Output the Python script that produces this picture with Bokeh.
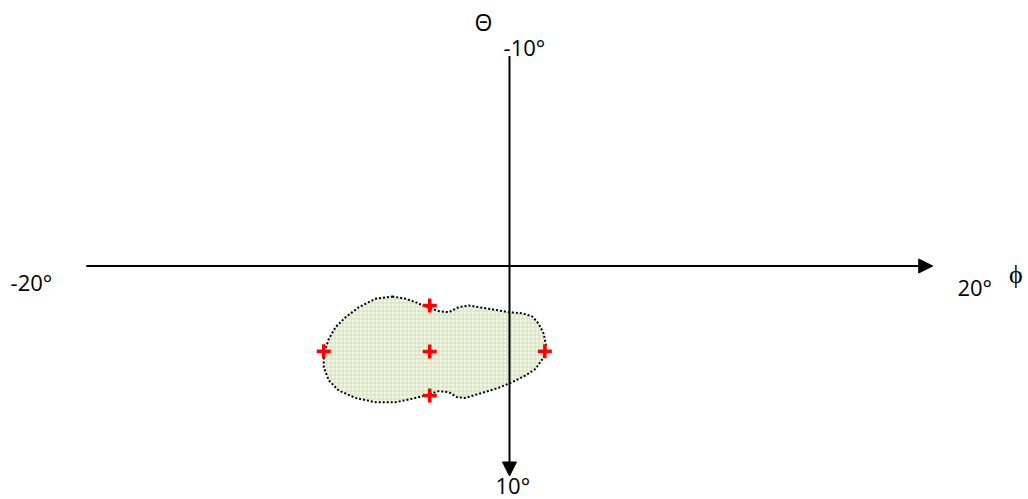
from bokeh.plotting import figure
from bokeh.models import Range1d, Arrow, NormalHead, Label
from bokeh.embed import file_html
from bokeh.resources import INLINE

# Axis extents (degrees)
phi_axis = [-20, 20]      # horizontal axis, phi
theta_axis = [-10, 10]    # vertical axis, theta (downward positive)

# Region outline (phi, theta) in degrees
region_phi = [-5.54, -4.91, -4.44, -3.97, -3.65, -3.34, -2.87, -2.40, -1.92, -1.29,
              -0.66, -0.03, 0.60, 1.07, 1.38, 1.62, 1.73, 1.62, 1.23, 0.76,
              0.13, -0.51, -1.29, -2.08, -2.47, -2.87, -3.34, -3.97, -4.60, -5.39,
              -6.33, -7.28, -8.07, -8.54, -8.78, -8.78, -8.54, -8.22, -7.75, -7.12,
              -6.33]
region_theta = [1.45, 1.56, 1.72, 1.93, 2.04, 2.15, 2.20, 1.96, 1.88, 1.99,
                2.09, 2.20, 2.25, 2.40, 2.75, 3.23, 3.79, 4.34, 4.90, 5.21,
                5.53, 5.80, 6.04, 6.28, 6.25, 6.01, 5.96, 6.17, 6.32, 6.49,
                6.49, 6.28, 5.93, 5.45, 4.82, 4.18, 3.47, 2.91, 2.44, 1.96,
                1.56]

# Sample points (red crosses)
pts_phi = [-8.78, -3.77, -3.77, -3.77, 1.67]
pts_theta = [4.06, 1.88, 4.07, 6.17, 4.06]

p = figure(width=1028, height=499,
           x_range=Range1d(-24.055, 24.527),
           y_range=Range1d(11.119, -12.643),
           output_backend="svg", toolbar_location=None,
           x_axis_location=None, y_axis_location=None,
           min_border=0, outline_line_color=None)
p.grid.visible = False
p.background_fill_color = "white"

p.patch(region_phi, region_theta, fill_color="#f2f6ea",
        hatch_pattern="cross", hatch_color="#d3e1b8", hatch_scale=4, hatch_weight=1,
        line_color="black", line_width=2, line_dash="2 2")

p.add_layout(Arrow(end=NormalHead(size=14, fill_color="black", line_color="black"),
                   x_start=phi_axis[0], y_start=0, x_end=phi_axis[1], y_end=0,
                   line_color="black", line_width=2))
p.add_layout(Arrow(end=NormalHead(size=14, fill_color="black", line_color="black"),
                   x_start=0, y_start=theta_axis[0], x_end=0, y_end=theta_axis[1],
                   line_color="black", line_width=2))

p.scatter(pts_phi, pts_theta, marker="cross", size=14, line_width=3.5, line_color="red")

font = "Open Sans"
labels = [
    ("-20°", -23.58, 0.74, 22),
    ("20°", 21.17, 0.98, 22),
    ("ϕ", 23.60, 0.35, 26),
    ("Θ", -1.65, -11.6, 23),
    ("-10°", -0.28, -10.45, 22),
    ("10°", -0.66, 10.42, 22),
]
for t, x, y, s in labels:
    p.add_layout(Label(x=x, y=y, text=t, text_font=font, text_font_size=f"{s}px",
                       text_align="left", text_baseline="middle", text_color="black"))

open("out.html", "w").write(file_html(p, INLINE))
